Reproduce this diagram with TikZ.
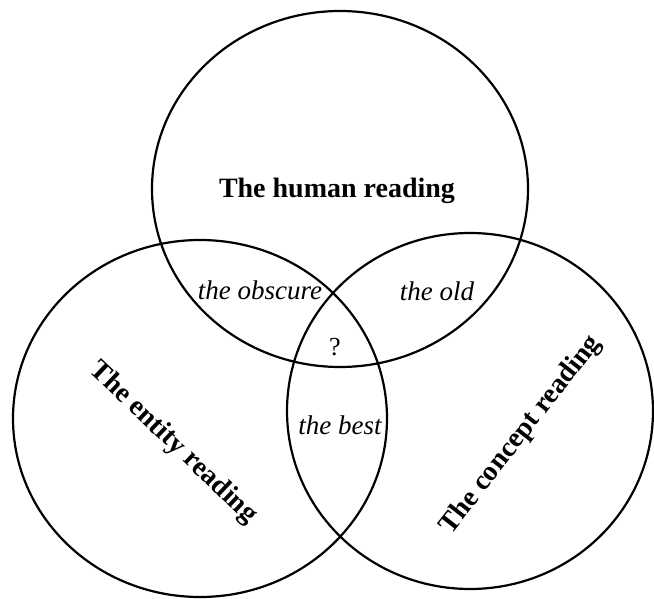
\documentclass[tikz,border=0pt]{standalone}
\usepackage{fontspec}
\setmainfont{Liberation Serif}
\usetikzlibrary{shapes.geometric, positioning}
\tikzset{
    ring/.style={ellipse, draw=black, line width=2.2pt, minimum width=376pt,
                 minimum height=356pt, inner sep=0pt},
    title/.style={font=\fontsize{28}{33}\selectfont\bfseries, inner sep=0pt},
    overlap/.style={font=\fontsize{27}{32}\selectfont\itshape, inner sep=0pt}
}

\begin{document}
\begin{tikzpicture}[x=1pt, y=-1pt]
    \useasboundingbox (0,0) rectangle (654,599);

    % Circles
    \node[ring] (human) at (340,189) {};
    \node[ring, minimum width=374pt, minimum height=357pt] (entity) at (200,418.5) {};
    \node[ring, minimum width=366pt] (concept) at (470,411) {};

    % Readings
    \node[title] (humanlbl) at (337,191) {The human reading};
    \node[title, rotate=-43.6] (entitylbl) at (173,443) {The entity reading};
    \node[title, rotate=52] (conceptlbl) at (521,435) {The concept reading};

    % Overlaps
    \node[overlap] (obscure) at (260,290) {the obscure};
    \node[overlap] (old) at (437,291) {the old};
    \node[overlap] (best) at (340,425) {the best};
    \node[font=\fontsize{26}{30}\selectfont, inner sep=0pt] (unknown) at (335,347) {?};
\end{tikzpicture}
\end{document}
